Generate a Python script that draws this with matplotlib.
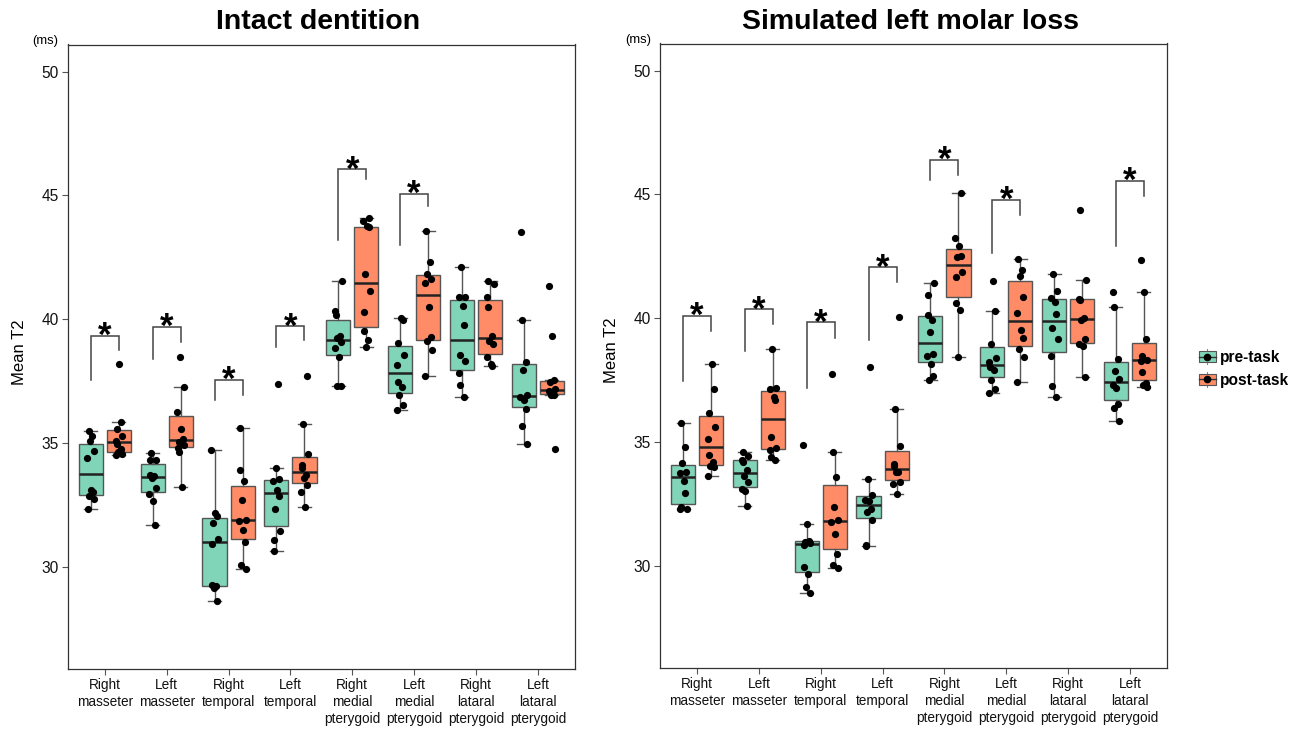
import numpy as np
import matplotlib
matplotlib.use("Agg")
import matplotlib.pyplot as plt
from matplotlib.patches import Rectangle, Patch
from matplotlib.lines import Line2D
from matplotlib.legend_handler import HandlerBase

plt.rcParams['font.family'] = ['Liberation Sans', 'DejaVu Sans']

categories = ["Right\nmasseter", "Left\nmasseter", "Right\ntemporal", "Left\ntemporal",
              "Right\nmedial\npterygoid", "Left\nmedial\npterygoid",
              "Right\nlataral\npterygoid", "Left\nlataral\npterygoid"]
titles = ["Intact dentition", "Simulated left molar loss"]
group_labels = ["pre-task", "post-task"]
yticks = [30, 35, 40, 45, 50]

# ---- Intact dentition ----
intact_pre = [
    [35.50, 35.27, 35.07, 34.69, 34.40, 33.12, 33.02, 32.85, 32.74, 32.34],
    [34.60, 34.33, 34.30, 33.70, 33.66, 33.60, 33.20, 32.95, 32.66, 31.70],
    [34.73, 32.18, 32.04, 31.77, 31.13, 30.90, 29.28, 29.22, 29.15, 28.61],
    [37.37, 33.99, 33.55, 33.45, 33.09, 32.85, 32.34, 31.43, 31.07, 30.63],
    [41.55, 40.34, 40.19, 39.31, 39.24, 39.08, 38.84, 38.46, 37.30, 37.29],
    [40.05, 39.98, 39.04, 38.54, 38.17, 37.47, 37.25, 36.95, 36.55, 36.32],
    [42.12, 40.90, 40.88, 40.52, 39.76, 38.54, 38.30, 37.83, 37.36, 36.86],
    [43.52, 39.98, 38.26, 37.94, 36.93, 36.85, 36.72, 36.38, 35.68, 34.96],
]
intact_post = [
    [38.19, 35.84, 35.58, 35.30, 35.10, 34.95, 34.75, 34.62, 34.55, 34.50],
    [38.46, 37.27, 36.26, 35.55, 35.17, 35.05, 34.91, 34.80, 34.62, 33.23],
    [35.61, 33.90, 33.45, 32.69, 31.90, 31.85, 31.50, 30.99, 30.06, 29.92],
    [37.72, 35.78, 34.56, 34.10, 33.99, 33.70, 33.59, 33.32, 33.01, 32.42],
    [44.09, 43.96, 43.75, 43.73, 41.82, 41.13, 40.29, 39.51, 39.18, 38.88],
    [43.56, 42.30, 41.84, 41.63, 41.47, 40.50, 39.27, 39.11, 38.77, 37.72],
    [41.55, 41.43, 40.88, 40.48, 39.31, 39.14, 39.01, 38.46, 38.19, 38.10],
    [41.33, 39.31, 37.55, 37.45, 37.20, 37.12, 37.05, 36.95, 36.92, 34.77],
]
# ---- Simulated left molar loss ----
loss_pre = [
    [35.77, 34.78, 34.17, 33.77, 33.74, 33.41, 32.94, 32.36, 32.29, 32.28],
    [34.58, 34.42, 34.28, 34.20, 33.88, 33.64, 33.37, 33.10, 33.04, 32.40],
    [34.86, 31.70, 31.01, 30.95, 30.92, 30.85, 29.97, 29.68, 29.16, 28.90],
    [38.05, 33.52, 32.87, 32.65, 32.60, 32.29, 32.19, 31.86, 30.82, 30.80],
    [41.42, 40.95, 40.14, 39.91, 39.44, 38.57, 38.48, 38.16, 37.68, 37.49],
    [41.49, 40.28, 38.97, 38.39, 38.23, 38.03, 37.89, 37.52, 37.14, 36.98],
    [41.80, 41.12, 40.82, 40.64, 40.17, 39.60, 39.16, 38.46, 37.25, 36.82],
    [41.08, 40.45, 38.35, 37.85, 37.54, 37.31, 37.20, 36.55, 36.37, 35.86],
]
loss_post = [
    [38.16, 37.16, 36.19, 35.60, 35.13, 34.48, 34.21, 34.04, 34.00, 33.64],
    [38.76, 37.20, 37.16, 36.80, 36.68, 35.20, 34.75, 34.68, 34.40, 34.28],
    [37.76, 34.58, 33.57, 32.36, 31.83, 31.77, 31.30, 30.49, 30.04, 29.91],
    [40.07, 36.35, 34.82, 34.11, 34.05, 33.80, 33.77, 33.38, 33.31, 32.91],
    [45.08, 43.26, 42.90, 42.50, 42.47, 41.87, 41.66, 40.61, 40.32, 38.42],
    [42.39, 41.96, 41.72, 40.84, 40.23, 39.54, 39.20, 38.76, 38.42, 37.42],
    [44.36, 41.53, 40.78, 40.75, 40.01, 39.91, 39.17, 38.95, 38.86, 37.61],
    [42.34, 41.08, 39.16, 38.46, 38.32, 38.28, 37.81, 37.38, 37.30, 37.22],
]

# significance brackets: category index, top, left-leg end, right-leg end
intact_sig_idx = [0, 1, 2, 3, 4, 5]
intact_sig_top = [39.34, 39.69, 37.56, 39.72, 46.06, 45.08]
intact_sig_left = [37.54, 38.40, 36.73, 38.88, 43.21, 43.00]
intact_sig_right = [38.74, 39.07, 36.93, 39.15, 45.66, 44.56]

loss_sig_idx = [0, 1, 2, 3, 4, 5, 7]
loss_sig_top = [40.10, 40.37, 39.83, 42.07, 46.40, 44.79, 45.56]
loss_sig_left = [37.45, 38.69, 37.20, 39.13, 45.60, 42.63, 42.93]
loss_sig_right = [39.47, 39.77, 39.22, 41.46, 45.80, 44.18, 44.95]

colors = ["#80D4B8", "#FF8C67"]
edge = "#555555"

W, H = 1293, 731
fig = plt.figure(figsize=(W / 100, H / 100), dpi=100)

axes_px = [(67.7, 44.5, 575.0, 669.0), (660.0, 43.5, 1167.0, 668.0)]
ylim = (25.87, 51.1)
dodge = 0.227
boxw = 0.39
jit_base = np.array([-0.6, 0.45, -0.2, 0.8, -0.9, 0.15, 0.65, -0.45, 0.95, -0.75]) * 0.06

panels = [
    (intact_pre, intact_post, intact_sig_idx, intact_sig_top, intact_sig_left, intact_sig_right),
    (loss_pre, loss_post, loss_sig_idx, loss_sig_top, loss_sig_left, loss_sig_right),
]

for p, (pre, post, sidx, stop, sleft, sright) in enumerate(panels):
    x0, y0, x1, y1 = axes_px[p]
    ax = fig.add_axes([x0 / W, 1 - y1 / H, (x1 - x0) / W, (y1 - y0) / H])
    n = len(categories)
    cat_pos = np.arange(1, n + 1)
    for g, data in enumerate([pre, post]):
        pos = cat_pos + (-dodge if g == 0 else dodge)
        ax.boxplot(data, positions=pos, widths=boxw, patch_artist=True, showfliers=False,
                   whis=1.5, capwidths=0.21,
                   boxprops=dict(facecolor=colors[g], edgecolor=edge, linewidth=1.0),
                   medianprops=dict(color="#222222", linewidth=1.8),
                   whiskerprops=dict(color=edge, linewidth=1.0),
                   capprops=dict(color=edge, linewidth=1.0), zorder=2)
        for i, vals in enumerate(data):
            offs = np.roll(jit_base, i * 3 + g * 5)[:len(vals)]
            ax.scatter(pos[i] + offs, vals, s=27, color="black", zorder=4, linewidths=0)
    for k, ci in enumerate(sidx):
        xl = cat_pos[ci] - dodge
        xr = cat_pos[ci] + dodge
        ax.plot([xl, xl, xr, xr], [sleft[k], stop[k], stop[k], sright[k]],
                color="#444444", lw=1.1, zorder=3, solid_joinstyle="miter")
        ax.annotate("*", xy=((xl + xr) / 2, stop[k]), xytext=(0, -7.5), textcoords="offset points",
                    ha="center", va="baseline", fontsize=25, fontweight="bold", color="black")
    ax.set_xlim(0.4, n + 0.6)
    ax.set_ylim(*ylim)
    ax.set_yticks(yticks)
    ax.set_yticklabels([str(v) for v in yticks], fontsize=11.2, color="#111111")
    ax.set_xticks(cat_pos)
    ax.set_xticklabels(categories, fontsize=9.8, color="#111111", linespacing=1.25)
    ax.tick_params(axis="both", direction="out", length=4, width=0.8, color="#555555", pad=2.5)
    for s in ax.spines.values():
        s.set_color("#333333")
        s.set_linewidth(0.9)

# titles and labels
fig.text(318 / W, 1 - 22 / H, titles[0], ha="center", va="center", fontsize=20.5, fontweight="bold")
fig.text(911 / W, 1 - 22 / H, titles[1], ha="center", va="center", fontsize=20.5, fontweight="bold")
fig.text(45 / W, 1 - 41 / H, "(ms)", ha="center", va="center", fontsize=9.4)
fig.text(638 / W, 1 - 40 / H, "(ms)", ha="center", va="center", fontsize=9.4)
fig.text(20 / W, 1 - 352 / H, "Mean T2", ha="center", va="center", rotation=90, fontsize=12)
fig.text(611 / W, 1 - 350 / H, "Mean T2", ha="center", va="center", rotation=90, fontsize=12)


class BoxKey(HandlerBase):
    def create_artists(self, legend, orig, xd, yd, w, h, fs, trans):
        fc = orig.get_facecolor()
        bx, by = -xd, -yd
        cx, cy = bx + w / 2, by + h / 2
        a = [Line2D([cx, cx], [by - 0.25 * h, by + 1.25 * h], color="#888888", lw=0.8, transform=trans),
             Rectangle((bx, by), w, h, facecolor=fc, edgecolor=edge, lw=0.8, transform=trans),
             Line2D([bx, bx + w], [cy, cy], color="#333333", lw=1.0, transform=trans),
             Line2D([cx], [cy], marker="o", ms=4.5, color="black", ls="none", transform=trans)]
        return a


handles = [Patch(facecolor=colors[0]), Patch(facecolor=colors[1])]
fig.legend(handles, group_labels, handler_map={Patch: BoxKey()}, loc="center left",
           bbox_to_anchor=(1197 / W, 1 - 369 / H), frameon=False, borderaxespad=0,
           prop=dict(weight="bold", size=11.2), handlelength=1.1, handleheight=0.65,
           handletextpad=0.25, labelspacing=0.5, borderpad=0.1)

fig.savefig("out.png", dpi=100)
